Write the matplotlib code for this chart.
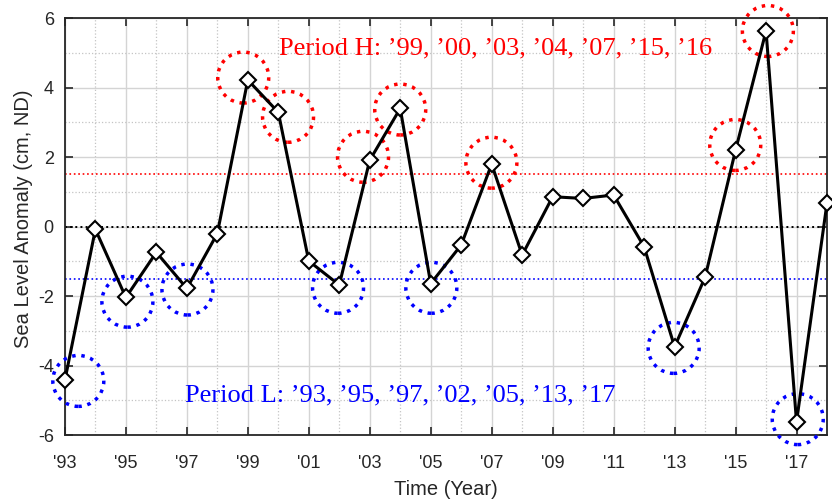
import matplotlib
matplotlib.use("Agg")
import matplotlib.pyplot as plt
from matplotlib.patches import Ellipse
from matplotlib.ticker import MultipleLocator

plt.rcParams["font.family"] = ["Liberation Sans", "DejaVu Sans"]
plt.rcParams["axes.unicode_minus"] = False

# yearly sea level anomaly
years = list(range(1993, 2019))
anomaly = [-4.42, -0.08, -2.04, -0.74, -1.78, -0.20, 4.22, 3.29, -0.99, -1.68,
           1.91, 3.40, -1.64, -0.53, 1.80, -0.82, 0.86, 0.81, 0.91, -0.58,
           -3.46, -1.46, 2.20, 5.63, -5.62, 0.68]

# circle centres for the marked years
high_x = [1998.85, 2000.32, 2002.78, 2004.0, 2006.99, 2014.99, 2016.06]
high_y = [4.29, 3.16, 2.01, 3.37, 1.84, 2.35, 5.63]
low_x = [1993.44, 1995.05, 1997.02, 2001.96, 2005.02, 2012.97, 2017.04]
low_y = [-4.44, -2.16, -1.81, -1.76, -1.76, -3.49, -5.54]

threshold = 1.5
tick_years = list(range(1993, 2018, 2))
tick_labels = ["'%02d" % (y % 100) for y in tick_years]

fig = plt.figure(figsize=(8.32, 5.03), dpi=100)
ax = fig.add_axes([0.078, 0.135, 0.916, 0.829])

ax.set_xlim(1993, 2018)
ax.set_ylim(-6, 6)
ax.set_xticks(tick_years)
ax.set_xticklabels(tick_labels)
ax.xaxis.set_minor_locator(MultipleLocator(1))
ax.yaxis.set_major_locator(MultipleLocator(2))
ax.yaxis.set_minor_locator(MultipleLocator(1))

ax.grid(which="major", color="#d4d4d4", linestyle="-", linewidth=1)
ax.grid(which="minor", color="#c4c4c4", linestyle=":", linewidth=0.9)
ax.set_axisbelow(True)

ax.tick_params(which="major", direction="in", length=6, width=1.2,
               top=True, right=True, labelsize=13, colors="#262626")
ax.tick_params(axis="x", which="major", pad=14)
ax.tick_params(axis="y", which="major", pad=8)
ax.tick_params(which="minor", length=0, top=True, right=True)
for sp in ax.spines.values():
    sp.set_color("#262626")
    sp.set_linewidth(1.3)

ax.axhline(0, color="black", linestyle=":", linewidth=1.4)
ax.axhline(threshold, color="red", linestyle=":", linewidth=1.2)
ax.axhline(-threshold, color="blue", linestyle=":", linewidth=1.2)

ax.plot(years, anomaly, color="black", linewidth=2.2, marker="D",
        markersize=8, markerfacecolor="white", markeredgecolor="black",
        markeredgewidth=1.5, zorder=5, clip_on=False)

w = 51 / 30.5
h = 51 / 34.75
for cx, cy in zip(high_x, high_y):
    ax.add_patch(Ellipse((cx, cy), w, h, fill=False, edgecolor="red",
                         linestyle=":", linewidth=2.5, zorder=4, clip_on=False))
for cx, cy in zip(low_x, low_y):
    ax.add_patch(Ellipse((cx, cy), w, h, fill=False, edgecolor="blue",
                         linestyle=":", linewidth=2.5, zorder=4, clip_on=False))

ax.text(2000.02, 5.14, "Period H: \u201999, \u201900, \u201903, \u201904, \u201907, \u201915, \u201916",
        color="red", fontsize=19, family="Liberation Serif", va="center", ha="left")
ax.text(1996.93, -4.85, "Period L: \u201993, \u201995, \u201997, \u201902, \u201905, \u201913, \u201917",
        color="blue", fontsize=19, family="Liberation Serif", va="center", ha="left")

ax.set_xlabel("Time (Year)", fontsize=14.5, color="#262626")
ax.set_ylabel("Sea Level Anomaly (cm, ND)", fontsize=14.5, color="#262626")
ax.xaxis.set_label_coords(0.5, -0.107)
ax.yaxis.set_label_coords(-0.042, 0.52)

fig.savefig("out.png", dpi=100)
